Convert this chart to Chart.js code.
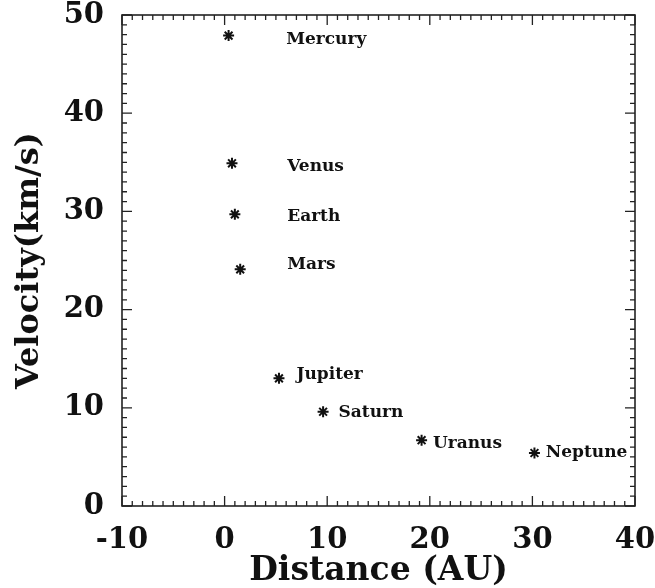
<!DOCTYPE html>
<html>
<head>
<meta charset="utf-8">
<script src="https://cdn.jsdelivr.net/npm/chart.js@4/dist/chart.umd.min.js"></script>
<style>
  body { margin: 0; background: #fff; }
  #wrap { width: 655px; height: 588px; }
</style>
</head>
<body>
<div id="wrap"><canvas id="c" width="655" height="588"></canvas></div>
<script>
// planet data
const planets = ['Mercury', 'Venus', 'Earth', 'Mars', 'Jupiter', 'Saturn', 'Uranus', 'Neptune']
const distance = [0.39, 0.72, 1.0, 1.52, 5.3, 9.6, 19.2, 30.2]
const velocity = [47.9, 34.9, 29.7, 24.1, 13.0, 9.6, 6.7, 5.4]
// where each name is written (data units)
const labelX = [6.0, 6.1, 6.1, 6.1, 7.0, 11.1, 20.3, 31.3]
const labelY = [47.5, 34.6, 29.5, 24.6, 13.4, 9.5, 6.4, 5.4]
const xTicks = [-10, 0, 10, 20, 30, 40]
const yTicks = [0, 10, 20, 30, 40, 50]

const serif = '"DejaVu Serif", serif'

// frame with inward major/minor ticks on all four sides, IDL style
const framePlugin = {
    id: 'frame',
    afterDatasetsDraw(chart) {
        const { ctx, chartArea: a, scales: { x, y } } = chart
        ctx.save()
        ctx.strokeStyle = '#222'
        ctx.lineWidth = 1.6
        ctx.strokeRect(a.left, a.top, a.right - a.left, a.bottom - a.top)
        ctx.lineWidth = 1.3
        ctx.beginPath()
        for (let v = x.min; v <= x.max; v++) {
            const px = x.getPixelForValue(v)
            const len = v % 10 === 0 ? 10 : 5
            ctx.moveTo(px, a.bottom); ctx.lineTo(px, a.bottom - len)
            ctx.moveTo(px, a.top); ctx.lineTo(px, a.top + len)
        }
        for (let v = y.min; v <= y.max; v++) {
            const py = y.getPixelForValue(v)
            const len = v % 10 === 0 ? 10 : 5
            ctx.moveTo(a.left, py); ctx.lineTo(a.left + len, py)
            ctx.moveTo(a.right, py); ctx.lineTo(a.right - len, py)
        }
        ctx.stroke()

        // planet names
        ctx.fillStyle = '#111'
        ctx.font = 'bold 17px ' + serif
        ctx.textAlign = 'left'
        ctx.textBaseline = 'middle'
        planets.forEach((name, i) => {
            ctx.fillText(name, x.getPixelForValue(labelX[i]), y.getPixelForValue(labelY[i]))
        })
        ctx.restore()
    }
}

const noPad = s => { s.paddingLeft = 0; s.paddingRight = 0; s.paddingTop = 0; s.paddingBottom = 0 }

const ctx = document.getElementById('c').getContext('2d')
new Chart(ctx, {
    type: 'scatter',
    data: {
        datasets: [{
            data: distance.map((d, i) => ({ x: d, y: velocity[i] })),
            pointStyle: 'star',
            pointRadius: 5.5,
            borderWidth: 2,
            borderColor: '#111',
            backgroundColor: '#111'
        }]
    },
    options: {
        responsive: false,
        animation: false,
        layout: { padding: { top: 15, right: 20, left: 0, bottom: 0 } },
        plugins: { legend: { display: false }, tooltip: { enabled: false } },
        scales: {
            x: {
                type: 'linear',
                min: -10, max: 40,
                afterBuildTicks: s => { s.ticks = xTicks.map(v => ({ value: v })) },
                afterFit: s => { s.height = 82; noPad(s) },
                grid: { display: false },
                border: { display: false },
                ticks: { color: '#111', padding: 9, maxRotation: 0, font: { family: serif, size: 29, weight: 'bold' } },
                title: {
                    display: true, text: 'Distance (AU)', color: '#111',
                    padding: { top: 0, bottom: -3 },
                    font: { family: serif, size: 33, weight: 'bold' }
                }
            },
            y: {
                type: 'linear',
                min: 0, max: 50,
                afterBuildTicks: s => { s.ticks = yTicks.map(v => ({ value: v })) },
                afterFit: s => { s.width = 122; noPad(s) },
                grid: { display: false },
                border: { display: false },
                ticks: { color: '#111', padding: 10, font: { family: serif, size: 29, weight: 'bold' } },
                title: {
                    display: true, text: 'Velocity(km/s)', color: '#111',
                    padding: { top: 10, bottom: 0 },
                    font: { family: serif, size: 32, weight: 'bold' }
                }
            }
        }
    },
    plugins: [framePlugin]
})
</script>
</body>
</html>
